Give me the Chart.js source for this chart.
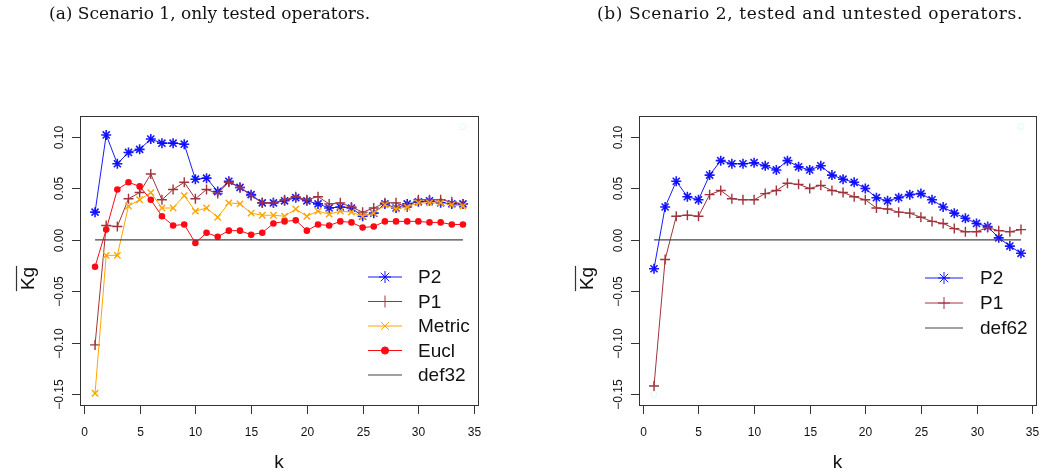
<!DOCTYPE html>
<html>
<head>
<meta charset="utf-8">
<script src="https://cdn.jsdelivr.net/npm/chart.js@4.4.1/dist/chart.umd.min.js"></script>
<style>
  body { margin: 0; background: #fff; width: 1052px; height: 474px; position: relative; overflow: hidden; }
  .panel { position: absolute; top: 0; width: 526px; height: 474px; }
  .title { position: absolute; top: 3px; font-family: "DejaVu Serif", serif; font-size: 17px; color: #111; white-space: nowrap; z-index: 2; }
</style>
</head>
<body>
<div class="panel" style="left:0"><canvas id="chartA" width="526" height="474"></canvas></div>
<div class="panel" style="left:526px"><canvas id="chartB" width="526" height="474"></canvas></div>
<div class="title" id="titleA" style="left:49px">(a) Scenario 1, only tested operators.</div>
<div class="title" id="titleB" style="left:597px;letter-spacing:0.6px">(b) Scenario 2, tested and untested operators.</div>
<script>
// --- data ---
const k = [1, 2, 3, 4, 5, 6, 7, 8, 9, 10, 11, 12, 13, 14, 15, 16, 17, 18, 19, 20,
           21, 22, 23, 24, 25, 26, 27, 28, 29, 30, 31, 32, 33, 34];

// (a) scenario 1
const p2A = [0.027, 0.102, 0.074, 0.085, 0.088, 0.098, 0.094, 0.094, 0.093, 0.059,
             0.060, 0.047, 0.057, 0.051, 0.044, 0.036, 0.036, 0.038, 0.041, 0.038,
             0.035, 0.031, 0.032, 0.031, 0.023, 0.026, 0.035, 0.031, 0.035, 0.037,
             0.038, 0.036, 0.035, 0.035];
const p1A = [-0.102, 0.014, 0.013, 0.040, 0.046, 0.064, 0.039, 0.049, 0.056, 0.040,
             0.049, 0.045, 0.056, 0.051, 0.043, 0.036, 0.036, 0.039, 0.042, 0.039,
             0.042, 0.035, 0.036, 0.032, 0.027, 0.031, 0.036, 0.036, 0.032, 0.039,
             0.039, 0.039, 0.037, 0.035];
const metricA = [-0.149, -0.015, -0.015, 0.033, 0.039, 0.046, 0.031, 0.031, 0.043, 0.028,
                 0.031, 0.022, 0.036, 0.035, 0.026, 0.024, 0.024, 0.023, 0.030, 0.023,
                 0.028, 0.025, 0.028, 0.027, 0.023, 0.026, 0.034, 0.030, 0.032, 0.036,
                 0.036, 0.036, 0.034, 0.033];
const euclA = [-0.026, 0.010, 0.049, 0.056, 0.052, 0.039, 0.023, 0.014, 0.015, -0.003,
               0.007, 0.003, 0.009, 0.009, 0.005, 0.007, 0.016, 0.018, 0.019, 0.009,
               0.015, 0.014, 0.018, 0.017, 0.012, 0.013, 0.018, 0.018, 0.018, 0.018,
               0.017, 0.017, 0.015, 0.015];

// (b) scenario 2
const p2B = [-0.028, 0.032, 0.057, 0.042, 0.039, 0.063, 0.077, 0.074, 0.074, 0.075,
             0.072, 0.068, 0.077, 0.071, 0.068, 0.072, 0.063, 0.059, 0.056, 0.050,
             0.041, 0.038, 0.041, 0.044, 0.045, 0.039, 0.032, 0.026, 0.021, 0.016,
             0.013, 0.002, -0.006, -0.013];
const p1B = [-0.142, -0.019, 0.023, 0.024, 0.023, 0.044, 0.048, 0.040, 0.039, 0.039,
             0.045, 0.048, 0.055, 0.054, 0.050, 0.053, 0.048, 0.046, 0.042, 0.039,
             0.031, 0.030, 0.027, 0.026, 0.022, 0.018, 0.016, 0.011, 0.008, 0.008,
             0.012, 0.009, 0.008, 0.010];

// reference line (def) and the faint range points R left in the plot
const defX = [1, 34];
const defY = [0, 0];
const rangeX = [1, 34];
const rangeY = [-0.15, 0.11];

const xTicks = [0, 5, 10, 15, 20, 25, 30, 35];
const yTicks = [-0.15, -0.10, -0.05, 0.00, 0.05, 0.10];
const yTickLabels = ["\u22120.15", "\u22120.10", "\u22120.05", "0.00", "0.05", "0.10"];

const BLUE = "rgba(0,0,255,0.9)";
const BROWN = "#a0343c";
const ORANGE = "#ffa500";
const RED = "#ff0a14";
const GREY = "#444444";

function pts(xs, ys) {
  return xs.map((v, i) => ({ x: v, y: ys[i] }));
}

function series(label, ys, color, style, radius, order) {
  return {
    label, order,
    data: pts(k, ys),
    borderColor: color,
    backgroundColor: color,
    borderWidth: 1,
    pointStyle: style,
    pointRadius: radius,
    pointHoverRadius: radius,
    pointBorderWidth: style === "star" ? 1.6 : 1.4,
    tension: 0,
  };
}

function defLine(label) {
  return {
    label, order: 0,
    data: pts(defX, defY),
    borderColor: GREY,
    borderWidth: 1.2,
    pointRadius: 0,
  };
}

function rangePts() {
  return {
    label: "", order: 9, hideInLegend: true,
    data: pts(rangeX, rangeY),
    showLine: false,
    borderColor: "#dcfafa",
    backgroundColor: "transparent",
    pointStyle: "circle",
    pointRadius: 3,
    pointBorderWidth: 1,
  };
}

// R-like frame, ticks, labels and inset legend
const rFrame = {
  id: "rFrame",
  afterDraw(chart, args, opts) {
    const { ctx, chartArea: a, scales: { x, y } } = chart;
    ctx.save();
    ctx.strokeStyle = "#333";
    ctx.lineWidth = 1;
    ctx.strokeRect(Math.round(a.left) + 0.5, Math.round(a.top) + 0.5,
                   Math.round(a.right - a.left), Math.round(a.bottom - a.top));

    ctx.fillStyle = "#111";
    ctx.font = '12px "Liberation Sans", Arial, sans-serif';
    ctx.textAlign = "center";
    ctx.textBaseline = "middle";
    ctx.beginPath();
    xTicks.forEach((v) => {
      const px = Math.round(x.getPixelForValue(v)) + 0.5;
      ctx.moveTo(px, a.bottom);
      ctx.lineTo(px, a.bottom + 9);
      ctx.fillText(String(v), px, a.bottom + 28);
    });
    yTicks.forEach((v, i) => {
      const py = Math.round(y.getPixelForValue(v)) + 0.5;
      ctx.moveTo(a.left - 8, py);
      ctx.lineTo(a.left, py);
      ctx.save();
      ctx.translate(a.left - 20, py);
      ctx.rotate(-Math.PI / 2);
      ctx.fillText(yTickLabels[i], 0, 0);
      ctx.restore();
    });
    ctx.stroke();

    // axis titles
    ctx.font = '19px "Liberation Sans", Arial, sans-serif';
    ctx.fillText("k", (a.left + a.right) / 2, a.bottom + 58);
    ctx.save();
    ctx.translate(a.left - 51, (a.top + a.bottom) / 2 + 18);
    ctx.rotate(-Math.PI / 2);
    ctx.fillText("Kg", 0, 0);
    const w = ctx.measureText("Kg").width;
    ctx.beginPath();
    ctx.moveTo(-w / 2 - 1, -12.5);
    ctx.lineTo(w / 2 + 1, -12.5);
    ctx.lineWidth = 1.2;
    ctx.stroke();
    ctx.restore();

    // legend
    const items = chart.data.datasets.filter((d) => !d.hideInLegend);
    ctx.textAlign = "left";
    items.forEach((d, i) => {
      const ly = a.top + opts.top + i * opts.gap;
      ctx.strokeStyle = d.borderColor;
      ctx.lineWidth = d.borderWidth;
      ctx.beginPath();
      ctx.moveTo(a.right - opts.lineFrom, ly);
      ctx.lineTo(a.right - opts.lineTo, ly);
      ctx.stroke();
      if (d.pointRadius > 0) {
        ctx.fillStyle = d.backgroundColor;
        Chart.helpers.drawPoint(ctx, {
          pointStyle: d.pointStyle,
          radius: d.pointRadius + 1,
          borderWidth: d.pointBorderWidth,
          rotation: 0,
        }, a.right - (opts.lineFrom + opts.lineTo) / 2, ly);
      }
      ctx.fillStyle = "#111";
      ctx.fillText(d.label, a.right - opts.textAt, ly + 1);
    });
    ctx.restore();
  },
};

function makeChart(id, datasets, padding, legendOpts) {
  return new Chart(document.getElementById(id), {
    type: "line",
    data: { datasets },
    plugins: [rFrame],
    options: {
      responsive: false,
      animation: false,
      events: [],
      layout: { padding },
      scales: {
        x: { type: "linear", min: -0.35, max: 35.35, display: false },
        y: { type: "linear", min: -0.1604, max: 0.1204, display: false },
      },
      plugins: {
        legend: { display: false },
        tooltip: { enabled: false },
        rFrame: legendOpts,
      },
    },
  });
}

makeChart("chartA", [
  series("P2", p2A, BLUE, "star", 5, 4),
  series("P1", p1A, BROWN, "cross", 5, 3),
  series("Metric", metricA, ORANGE, "crossRot", 4.5, 2),
  series("Eucl", euclA, RED, "circle", 2.6, 1),
  defLine("def32"),
  rangePts(),
], { left: 80, top: 116, right: 48, bottom: 69 },
   { top: 161, gap: 24.5, lineFrom: 110, lineTo: 76, textAt: 60 });

makeChart("chartB", [
  series("P2", p2B, BLUE, "star", 5, 4),
  series("P1", p1B, BROWN, "cross", 5, 3),
  defLine("def62"),
  rangePts(),
], { left: 113, top: 116, right: 16, bottom: 69 },
   { top: 162, gap: 25, lineFrom: 111, lineTo: 73, textAt: 56 });
</script>
</body>
</html>
